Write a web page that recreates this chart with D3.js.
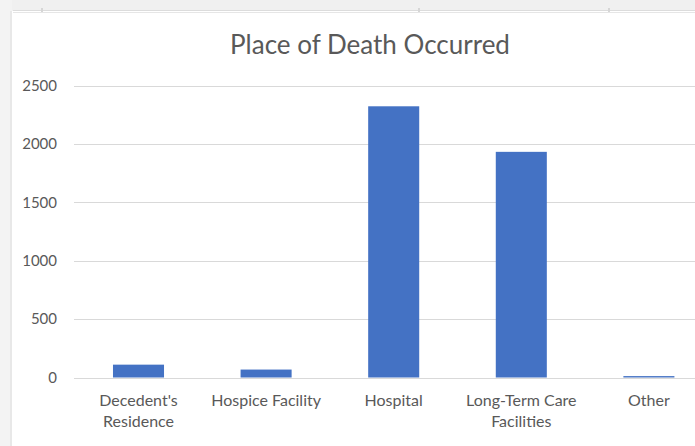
<!DOCTYPE html>
<html>
<head>
<meta charset="utf-8">
<script src="https://cdn.jsdelivr.net/npm/d3@7"></script>
<style>
  body { margin: 0; background: #ffffff; }
  svg { display: block; }
</style>
</head>
<body>
<svg id="chart" width="695" height="446"></svg>
<script>
var categories = ["Decedent's Residence", "Hospice Facility", "Hospital", "Long-Term Care Facilities", "Other"];
var deaths = [110, 68, 2322, 1932, 12];
var yTicks = [0, 500, 1000, 1500, 2000, 2500];
var title = "Place of Death Occurred";

var svg = d3.select("#chart");
var width = 695, height = 446;
var font = "Lato, 'Open Sans', sans-serif";

// spreadsheet frame behind the chart
svg.append("rect").attr("x", 0).attr("y", 0).attr("width", width).attr("height", 11).attr("fill", "#f0f0f0");
svg.append("rect").attr("x", 0).attr("y", 0).attr("width", 12).attr("height", height).attr("fill", "#f3f3f3");
svg.append("rect").attr("x", 10).attr("y", 11).attr("width", 2).attr("height", height).attr("fill", "#e8e8e8");
svg.append("rect").attr("x", 13).attr("y", 10).attr("width", width).attr("height", 1).attr("fill", "#dcdcdc");
svg.append("rect").attr("x", 13).attr("y", 12).attr("width", width).attr("height", 1).attr("fill", "#e6e6e6");
[41, 418, 608].forEach(function(x) {
  svg.append("rect").attr("x", x).attr("y", 8).attr("width", 2).attr("height", 4).attr("fill", "#d6d6d6");
});

var x = d3.scaleBand()
  .domain(categories)
  .range([74.7, 712.7])
  .paddingInner(0.6)
  .paddingOuter(0.3);

var y = d3.scaleLinear()
  .domain([0, 2500])
  .range([377.5, 85.5]);

// gridlines
svg.append("g").selectAll("line").data(yTicks).enter().append("line")
  .attr("x1", 74).attr("x2", width)
  .attr("y1", function(d) { return Math.round(y(d)) + 0.5; })
  .attr("y2", function(d) { return Math.round(y(d)) + 0.5; })
  .attr("stroke", "#d9d9d9").attr("stroke-width", 1);

// y labels
svg.append("g").selectAll("text").data(yTicks).enter().append("text")
  .attr("x", 57)
  .attr("y", function(d) { return y(d); })
  .attr("dy", "0.35em")
  .attr("text-anchor", "end")
  .style("font-family", font).style("font-size", "15px").style("fill", "#595959")
  .text(function(d) { return d; });

// bars
svg.append("g").selectAll("rect").data(deaths).enter().append("rect")
  .attr("x", function(d, i) { return x(categories[i]); })
  .attr("width", x.bandwidth())
  .attr("y", function(d) { return y(d); })
  .attr("height", function(d) { return y(0) - y(d); })
  .attr("fill", "#4472c4");

// category labels, wrapped to the slot width
var labels = svg.append("g").selectAll("text").data(categories).enter().append("text")
  .attr("x", function(d) { return x(d) + x.bandwidth() / 2; })
  .attr("y", 406)
  .attr("text-anchor", "middle")
  .style("font-family", font).style("font-size", "16px").style("fill", "#595959");

labels.each(function(d) {
  var el = d3.select(this);
  var words = d.split(" ");
  var lines = [], line = [];
  var probe = el.append("tspan");
  words.forEach(function(w) {
    probe.text(line.concat(w).join(" "));
    if (probe.node().getComputedTextLength() > 120 && line.length) {
      lines.push(line.join(" "));
      line = [w];
    } else {
      line.push(w);
    }
  });
  lines.push(line.join(" "));
  probe.remove();
  lines.forEach(function(l, i) {
    el.append("tspan")
      .attr("x", x(d) + x.bandwidth() / 2)
      .attr("dy", i === 0 ? 0 : 21)
      .text(l);
  });
});

// title
svg.append("text")
  .attr("x", 370)
  .attr("y", 54)
  .attr("text-anchor", "middle")
  .style("font-family", font).style("font-size", "26px").style("fill", "#595959")
  .text(title);
</script>
</body>
</html>
